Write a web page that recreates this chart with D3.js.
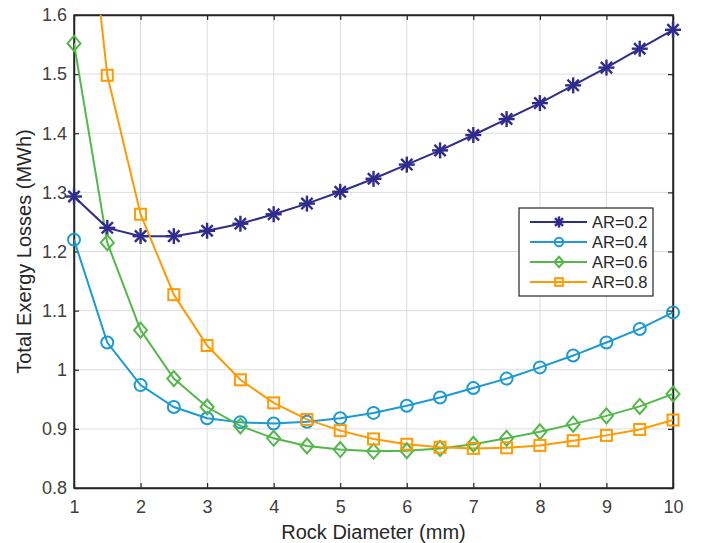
<!DOCTYPE html>
<html>
<head>
<meta charset="utf-8">
<script src="https://cdn.jsdelivr.net/npm/d3@7"></script>
<style>
  body { margin: 0; background: #fff; }
  svg { font-family: "Liberation Sans", Arial, sans-serif; }
</style>
</head>
<body>
<div id="container"></div>
<script>
// chart size
const width = 709;
const height = 543;
const margin = { top: 15, right: 36, bottom: 55, left: 74 };

// data
const diameters = [1, 1.5, 2, 2.5, 3, 3.5, 4, 4.5, 5, 5.5, 6, 6.5, 7, 7.5, 8, 8.5, 9, 9.5, 10];
const ar02 = [1.293, 1.240, 1.226, 1.226, 1.235, 1.247, 1.263, 1.281, 1.301, 1.323, 1.347, 1.371, 1.397, 1.424, 1.451, 1.481, 1.511, 1.543, 1.575];
const ar04 = [1.220, 1.046, 0.974, 0.937, 0.918, 0.911, 0.909, 0.912, 0.918, 0.927, 0.939, 0.953, 0.969, 0.985, 1.004, 1.024, 1.046, 1.069, 1.097];
const ar06 = [1.552, 1.215, 1.067, 0.985, 0.937, 0.905, 0.884, 0.871, 0.865, 0.862, 0.863, 0.867, 0.874, 0.884, 0.895, 0.908, 0.922, 0.938, 0.959];
const ar08 = [2.008, 1.498, 1.263, 1.127, 1.041, 0.983, 0.944, 0.916, 0.897, 0.883, 0.874, 0.869, 0.867, 0.868, 0.872, 0.880, 0.889, 0.899, 0.915];
const seriesNames = ["AR=0.2", "AR=0.4", "AR=0.6", "AR=0.8"];
const xTicks = [1, 2, 3, 4, 5, 6, 7, 8, 9, 10];
const yTicks = [0.8, 0.9, 1.0, 1.1, 1.2, 1.3, 1.4, 1.5, 1.6];

const colors = ["#2f2c8e", "#1b9ad6", "#52b848", "#ff9a00"];
const markers = ["star", "circle", "diamond", "square"];
const allSeries = [ar02, ar04, ar06, ar08].map((vals, i) => ({
    name: seriesNames[i],
    color: colors[i],
    marker: markers[i],
    points: vals.map((v, j) => ({ x: diameters[j], y: v }))
}));

const svg = d3.select("#container")
    .append("svg")
    .attr("width", width)
    .attr("height", height);

const x = d3.scaleLinear().domain([1, 10]).range([margin.left, width - margin.right]);
const y = d3.scaleLinear().domain([0.8, 1.6]).range([height - margin.bottom, margin.top]);

const x0 = x.range()[0], x1 = x.range()[1];
const y0 = y.range()[0], y1 = y.range()[1];

// grid lines
const grid = svg.append("g").attr("stroke", "#dcdcdc").attr("stroke-width", 1);
grid.selectAll(".gx").data(xTicks.slice(1, -1)).enter().append("line")
    .attr("x1", d => x(d)).attr("x2", d => x(d))
    .attr("y1", y1).attr("y2", y0);
grid.selectAll(".gy").data(yTicks.slice(1, -1)).enter().append("line")
    .attr("x1", x0).attr("x2", x1)
    .attr("y1", d => y(d)).attr("y2", d => y(d));

// clip plot area
svg.append("clipPath").attr("id", "clip")
    .append("rect")
    .attr("x", x0).attr("y", y1)
    .attr("width", x1 - x0).attr("height", y0 - y1);

// axes: ticks pointing inward on all four sides
const tickFmt = d3.format("");
svg.append("g")
    .attr("transform", `translate(0,${y0})`)
    .call(d3.axisBottom(x).tickValues(xTicks).tickSizeInner(-5).tickSizeOuter(0).tickPadding(12).tickFormat(tickFmt));
svg.append("g")
    .attr("transform", `translate(0,${y1})`)
    .call(d3.axisTop(x).tickValues(xTicks).tickSizeInner(-5).tickSizeOuter(0).tickFormat(""));
svg.append("g")
    .attr("transform", `translate(${x0},0)`)
    .call(d3.axisLeft(y).tickValues(yTicks).tickSizeInner(-5).tickSizeOuter(0).tickPadding(7).tickFormat(tickFmt));
svg.append("g")
    .attr("transform", `translate(${x1},0)`)
    .call(d3.axisRight(y).tickValues(yTicks).tickSizeInner(-5).tickSizeOuter(0).tickFormat(""));

svg.selectAll(".domain").attr("stroke", "#262626").attr("stroke-width", 1.5);
svg.selectAll(".tick line").attr("stroke", "#262626").attr("stroke-width", 1.2);
svg.selectAll(".tick text")
    .attr("fill", "#404040")
    .style("font-size", "18px");

// box frame
svg.append("rect")
    .attr("x", x0).attr("y", y1)
    .attr("width", x1 - x0).attr("height", y0 - y1)
    .attr("fill", "none")
    .attr("stroke", "#262626")
    .attr("stroke-width", 1.5);

// axis titles
svg.append("text")
    .attr("x", (x0 + x1) / 2)
    .attr("y", height - 4)
    .attr("text-anchor", "middle")
    .attr("fill", "#262626")
    .style("font-size", "20px")
    .text("Rock Diameter (mm)");

svg.append("text")
    .attr("transform", `translate(31,${(y0 + y1) / 2}) rotate(-90)`)
    .attr("text-anchor", "middle")
    .attr("fill", "#262626")
    .style("font-size", "20px")
    .text("Total Exergy Losses (MWh)");

// marker drawing helper, k scales the size
function drawMarker(g, type, color, k = 1) {
    if (type === "star") {
        const r = 8 * k;
        [0, 45, 90, 135].forEach(a => {
            const rad = a * Math.PI / 180;
            g.append("line")
                .attr("x1", -r * Math.cos(rad)).attr("y1", -r * Math.sin(rad))
                .attr("x2", r * Math.cos(rad)).attr("y2", r * Math.sin(rad))
                .attr("stroke", color).attr("stroke-width", 2.4);
        });
    } else if (type === "circle") {
        g.append("circle").attr("r", 6 * k)
            .attr("fill", "none").attr("stroke", color).attr("stroke-width", 2);
    } else if (type === "diamond") {
        g.append("path").attr("d", `M0,${-7.5 * k}L${6.5 * k},0L0,${7.5 * k}L${-6.5 * k},0Z`)
            .attr("fill", "none").attr("stroke", color).attr("stroke-width", 2);
    } else {
        const h = 5.5 * k;
        g.append("rect").attr("x", -h).attr("y", -h).attr("width", 2 * h).attr("height", 2 * h)
            .attr("fill", "none").attr("stroke", color).attr("stroke-width", 2);
    }
}

const lineGenerator = d3.line()
    .x(d => x(d.x))
    .y(d => y(d.y));

const plot = svg.append("g").attr("clip-path", "url(#clip)");

allSeries.forEach(s => {
    plot.append("path")
        .datum(s.points)
        .attr("fill", "none")
        .attr("stroke", s.color)
        .attr("stroke-width", 2)
        .attr("d", lineGenerator);
});

// markers (not clipped so edge markers stay whole)
allSeries.forEach(s => {
    s.points.filter(d => d.y <= 1.6).forEach(d => {
        const g = svg.append("g").attr("transform", `translate(${x(d.x)},${y(d.y)})`);
        drawMarker(g, s.marker, s.color);
    });
});

// legend
const legend = svg.append("g").attr("transform", "translate(519,208)");
legend.append("rect")
    .attr("width", 134).attr("height", 88)
    .attr("fill", "#fff")
    .attr("stroke", "#262626")
    .attr("stroke-width", 1.2);

allSeries.forEach((s, i) => {
    const row = legend.append("g").attr("transform", `translate(0,${14 + i * 20})`);
    row.append("line")
        .attr("x1", 11).attr("x2", 68)
        .attr("stroke", s.color).attr("stroke-width", 2);
    const m = row.append("g").attr("transform", "translate(40,0)");
    drawMarker(m, s.marker, s.color, 0.7);
    row.append("text")
        .attr("x", 73).attr("y", 0)
        .attr("dy", "0.36em")
        .attr("fill", "#262626")
        .style("font-size", "16.5px")
        .text(s.name);
});
</script>
</body>
</html>
